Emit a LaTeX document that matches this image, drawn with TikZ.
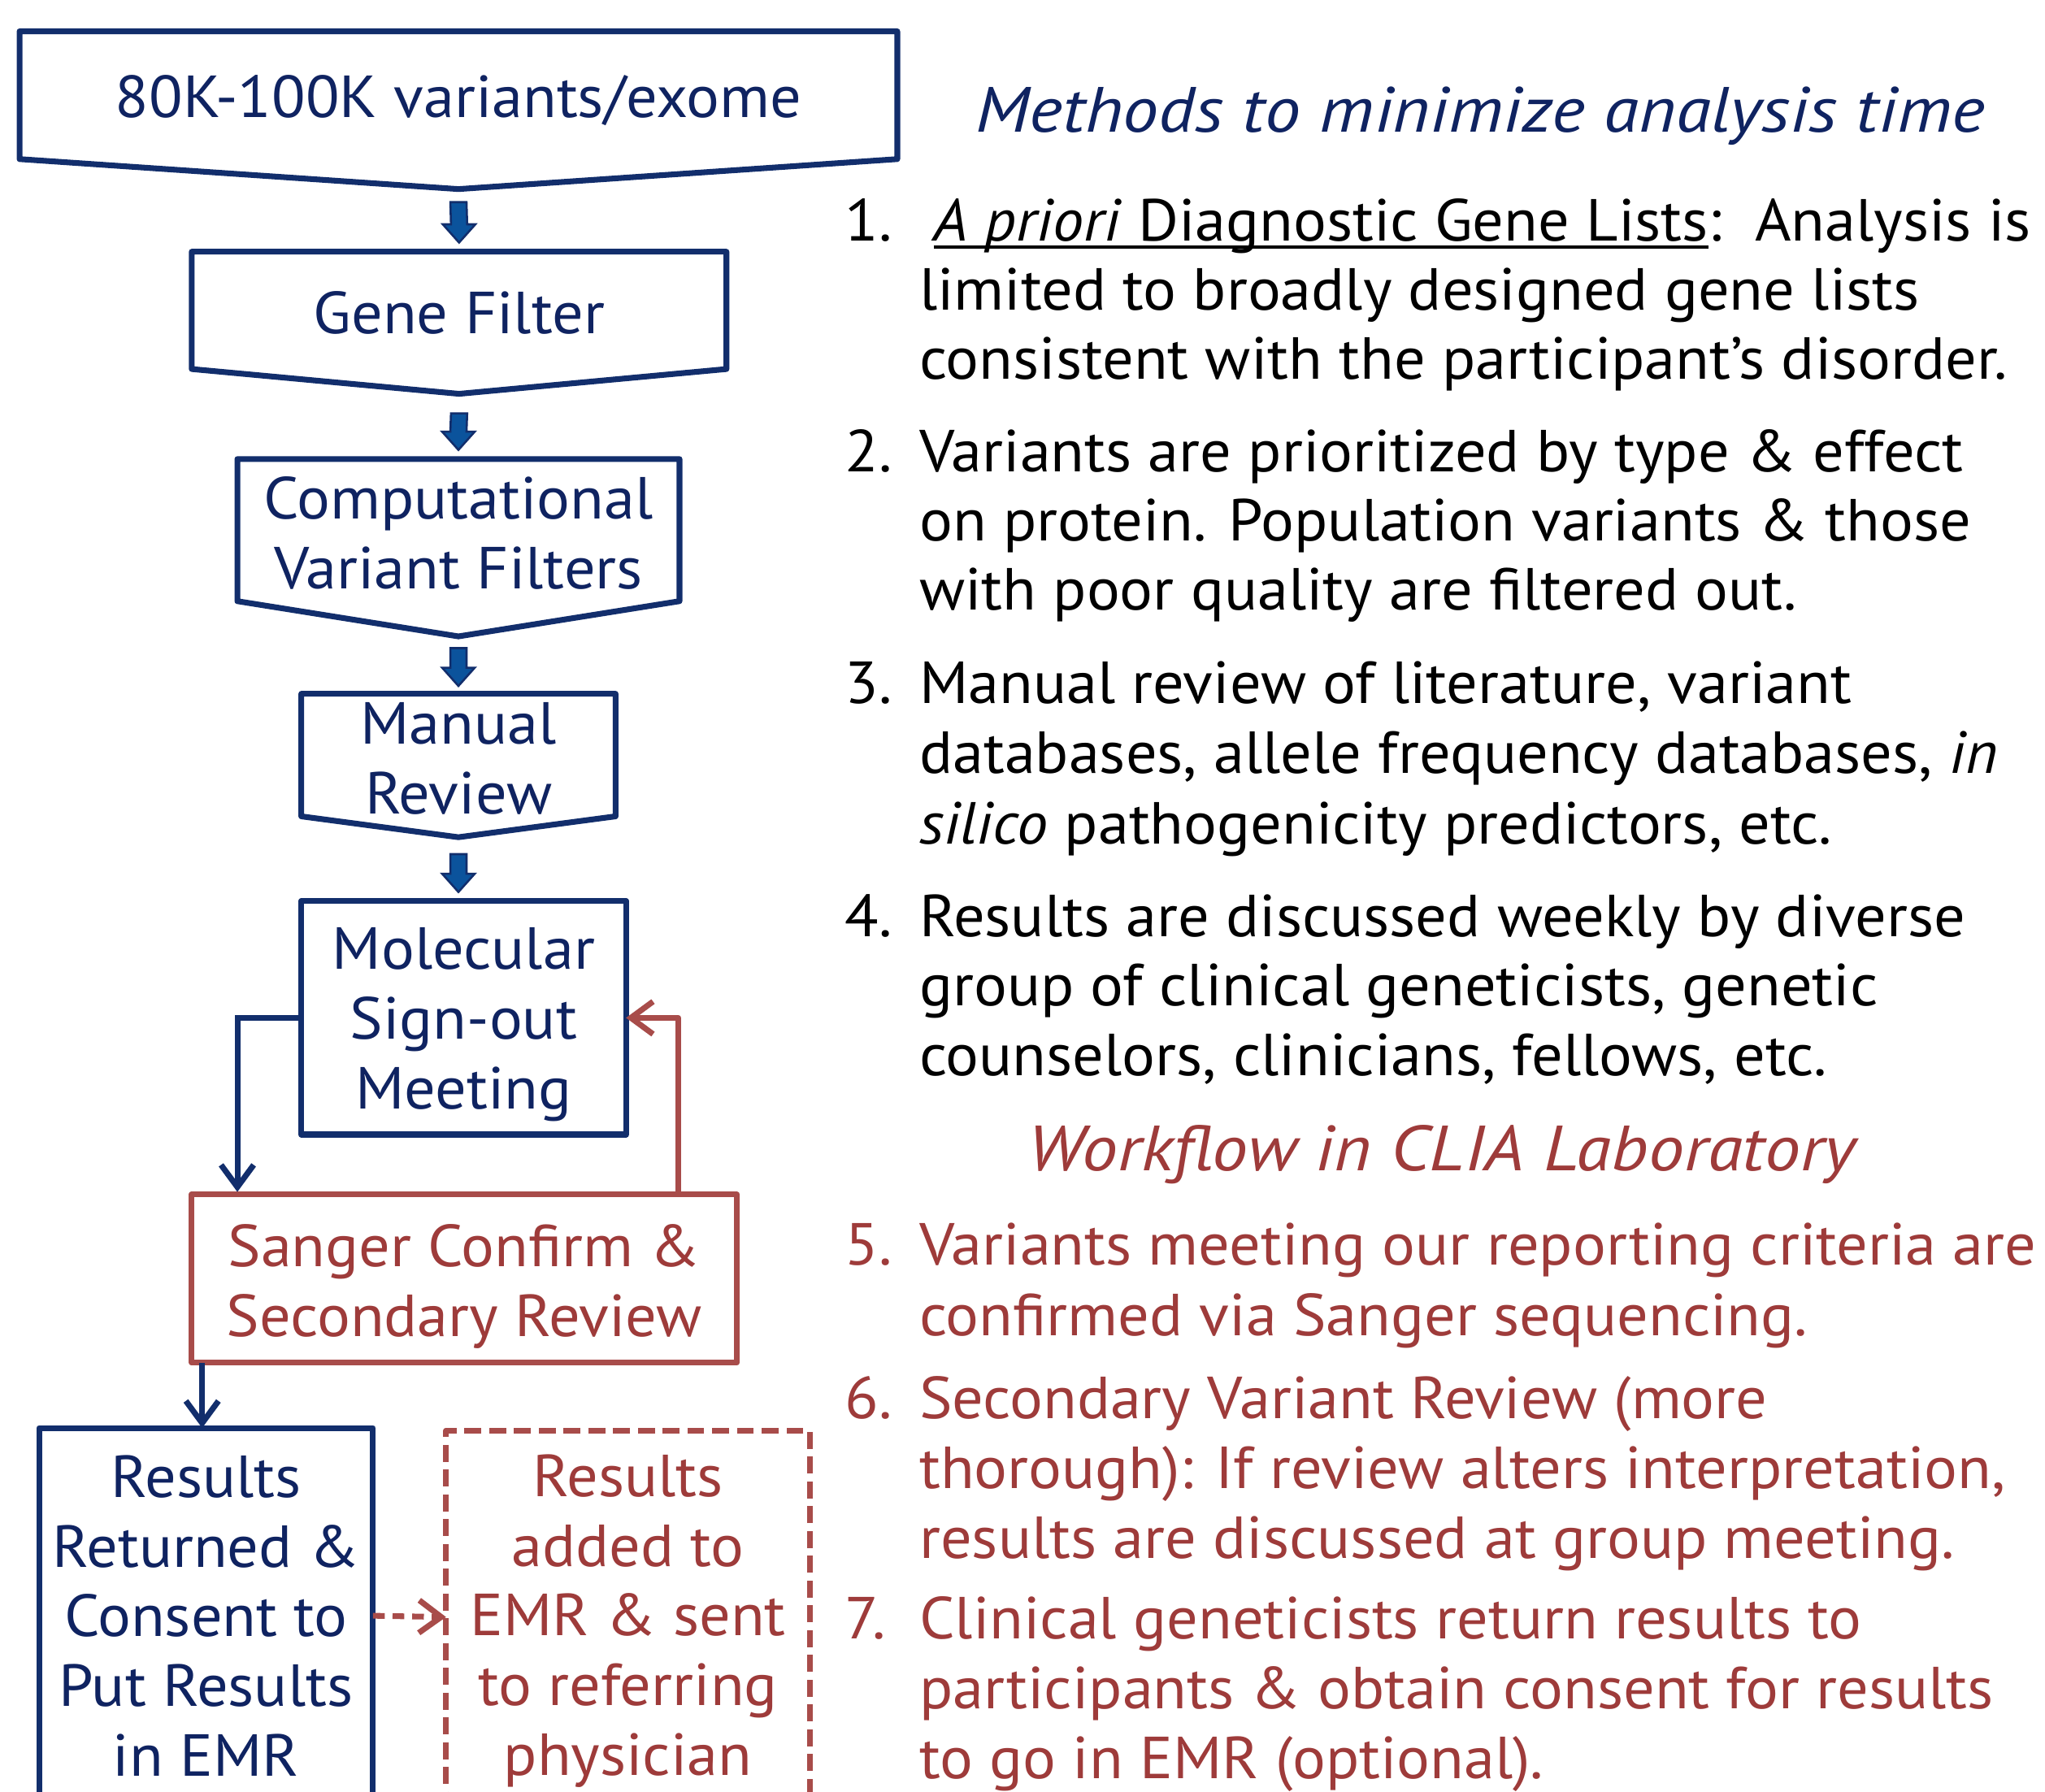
\documentclass[tikz,border=0pt]{standalone}
\usepackage{fontspec}
\setmainfont{PT Sans}[FakeStretch=1.045]
\newfontfamily\headfont{PT Sans}[FakeStretch=1.12]
\usetikzlibrary{arrows.meta,calc}
\definecolor{navy}{HTML}{122E6C}
\definecolor{navytext}{HTML}{0F2361}
\definecolor{bluefill}{HTML}{0B539C}
\definecolor{rline}{HTML}{A84C4A}
\definecolor{rtext}{HTML}{9E3B3A}
\newcommand\ulined[1]{\setbox0\hbox{#1}\rlap{\raisebox{-5.5pt}{\rule{\wd0}{2.6pt}}}\box0}
\newcommand\blockarrow[2]{%
  \draw[draw=navy, fill=bluefill, line width=1.6pt, line join=miter]
    ($(#1)+(-6.2,0)$) -- ($(#1)+(6.2,0)$) -- ($(#2)+(6.2,-14)$) -- ($(#2)+(12.5,-14)$)
    -- (#2) -- ($(#2)+(-12.5,-14)$) -- ($(#2)+(-6.2,-14)$) -- cycle;}
\begin{document}
\begin{tikzpicture}[x=1pt, y=-1pt,
  every node/.style={inner sep=0pt, outer sep=0pt},
  bt/.style={font=\fontsize{45.5}{53.5}\selectfont, text=navytext, align=center},
  rt/.style={font=\fontsize{45.5}{53.5}\selectfont, text=rtext, align=center},
  nline/.style={draw=navy, line width=4.4pt, line join=round},
  rline/.style={draw=rline, line width=4.4pt, line join=round},
  body/.style={font=\fontsize{45.5}{53.5}\selectfont, anchor=base west},
  head/.style={font=\headfont\fontsize{49}{58}\selectfont\itshape, anchor=base west},
  conn/.style={line width=4.4pt, -{Straight Barb[length=17pt,width=25pt]}},
]
\path[use as bounding box] (0,0) rectangle (1568,1374);
\clip (0,0) rectangle (1568,1374);
\fill[white] (0,0) rectangle (1568,1374);

% ---------- flowchart shapes ----------
\node[minimum width=673, minimum height=98] (b1) at (351.5,73) {};
\draw[nline] (b1.north west) -- (b1.north east) -- (b1.south east) -- ($(b1.south)+(0,23)$) -- (b1.south west) -- cycle;
\node[bt] (b1T) at ($(b1.center)+(0,4)$) {80K-100K variants/exome};

\node[minimum width=410, minimum height=90] (gene) at (352,238) {};
\draw[nline] (gene.north west) -- (gene.north east) -- (gene.south east) -- ($(gene.south)+(0,19)$) -- (gene.south west) -- cycle;
\node[bt] (geneT) at ($(gene.center)+(0,2)$) {Gene Filter};

\node[minimum width=339, minimum height=109] (comp) at (351.5,406.5) {};
\draw[nline] (comp.north west) -- (comp.north east) -- (comp.south east) -- ($(comp.south)+(0,27)$) -- (comp.south west) -- cycle;
\node[bt] (compT) at ($(comp.center)+(0,2.5)$) {Computational\\Variant Filters};

\node[minimum width=241, minimum height=94] (man) at (351.5,579) {};
\draw[nline] (man.north west) -- (man.north east) -- (man.south east) -- ($(man.south)+(0,16)$) -- (man.south west) -- cycle;
\node[bt] (manT) at ($(man.center)+(0,2.5)$) {Manual\\Review};

\node[nline, minimum width=249, minimum height=179] (mol) at (355.5,780.5) {};
\node[bt] (molT) at ($(mol.center)+(0,5)$) {Molecular\\Sign-out\\Meeting};

\node[rline, minimum width=418, minimum height=129] (sang) at (356,980.5) {};
\node[rt] (sangT) at ($(sang.center)+(0,6)$) {Sanger Confirm \&\\Secondary Review};

\node[nline, minimum width=256, minimum height=288] (res) at (158,1239) {};
\node[bt] (resT) at (res.center) {Results\\Returned \&\\Consent to\\Put Results\\in EMR};

\node[rline, dash pattern=on 13pt off 6pt, minimum width=279, minimum height=286] (emr) at (481.5,1240) {};
\node[rt] (emrT) at ($(emr.center)+(0,3)$) {Results\\added to\\EMR \& sent\\to referring\\physician};

% block arrows
\coordinate (a1s) at ($(b1.south)+(0,33)$);   \coordinate (a1e) at ($(gene.north)+(0,-7)$);
\coordinate (a2s) at ($(gene.south)+(0,34)$); \coordinate (a2e) at ($(comp.north)+(0,-7)$);
\coordinate (a3s) at ($(comp.south)+(0,36)$); \coordinate (a3e) at ($(man.north)+(0,-6)$);
\coordinate (a4s) at ($(man.south)+(0,29)$);  \coordinate (a4e) at ($(a4s |- mol.north)+(0,-7)$);
\blockarrow{a1s}{a1e}
\blockarrow{a2s}{a2e}
\blockarrow{a3s}{a3e}
\blockarrow{a4s}{a4e}

% connectors
\coordinate (sIn) at ($(sang.north west)+(35,-2)$);
\draw[conn, navy] (mol.west) -| (sIn);
\coordinate (sOut) at ($(sang.north east)+(-45,0)$);
\draw[conn, rline] (sOut) |- (mol.east);
\coordinate (sDown) at ($(sang.south west)+(8,0)$);
\draw[conn, navy] (sDown) -- (sDown |- res.north);
\draw[conn, rline, dash pattern=on 9pt off 6pt] (res.east) -- (emr.west);

% ---------- right-hand text ----------
\node[head, text=navytext] (t1) at (748,101) {Methods to minimize analysis time};

\node[body] (n1) at (648,185) {1.};
\node[body] (l11) at (716,185) {\ulined{\textit{A priori} Diagnostic Gene Lists}:\ \ Analysis is};
\node[body] (l12) at (705,237.5) {limited to broadly designed gene lists};
\node[body] (l13) at (705,290.5) {consistent with the participant’s disorder.};

\node[body] (n2) at (648,361.5) {2.};
\node[body] (l21) at (705,361.5) {Variants are prioritized by type \& effect};
\node[body] (l22) at (705,414.5) {on protein. Population variants \& those};
\node[body] (l23) at (705,468) {with poor quality are filtered out.};

\node[body] (n3) at (648,539.5) {3.};
\node[body] (l31) at (705,539.5) {Manual review of literature, variant};
\node[body] (l32) at (705,593) {databases, allele frequency databases, \textit{in}};
\node[body] (l33) at (705,647) {\textit{silico} pathogenicity predictors, etc.};

\node[body] (n4) at (648,718.5) {4.};
\node[body] (l41) at (705,718.5) {Results are discussed weekly by diverse};
\node[body] (l42) at (705,771.5) {group of clinical geneticists, genetic};
\node[body] (l43) at (705,825) {counselors, clinicians, fellows, etc.};

\node[head, text=rtext] (t2) at (788,898) {Workflow in CLIA Laboratory};

\begin{scope}[every node/.append style={text=rtext}]
\node[body] (n5) at (648,970) {5.};
\node[body] (l51) at (705,970) {Variants meeting our reporting criteria are};
\node[body] (l52) at (705,1024) {confirmed via Sanger sequencing.};

\node[body] (n6) at (648,1088) {6.};
\node[body] (l61) at (705,1088) {Secondary Variant Review (more};
\node[body] (l62) at (705,1141.5) {thorough): If review alters interpretation,};
\node[body] (l63) at (705,1195) {results are discussed at group meeting.};

\node[body] (n7) at (648,1256.5) {7.};
\node[body] (l71) at (705,1256.5) {Clinical geneticists return results to};
\node[body] (l72) at (705,1310) {participants \& obtain consent for results};
\node[body] (l73) at (705,1364) {to go in EMR (optional).};
\end{scope}
\end{tikzpicture}
\end{document}
